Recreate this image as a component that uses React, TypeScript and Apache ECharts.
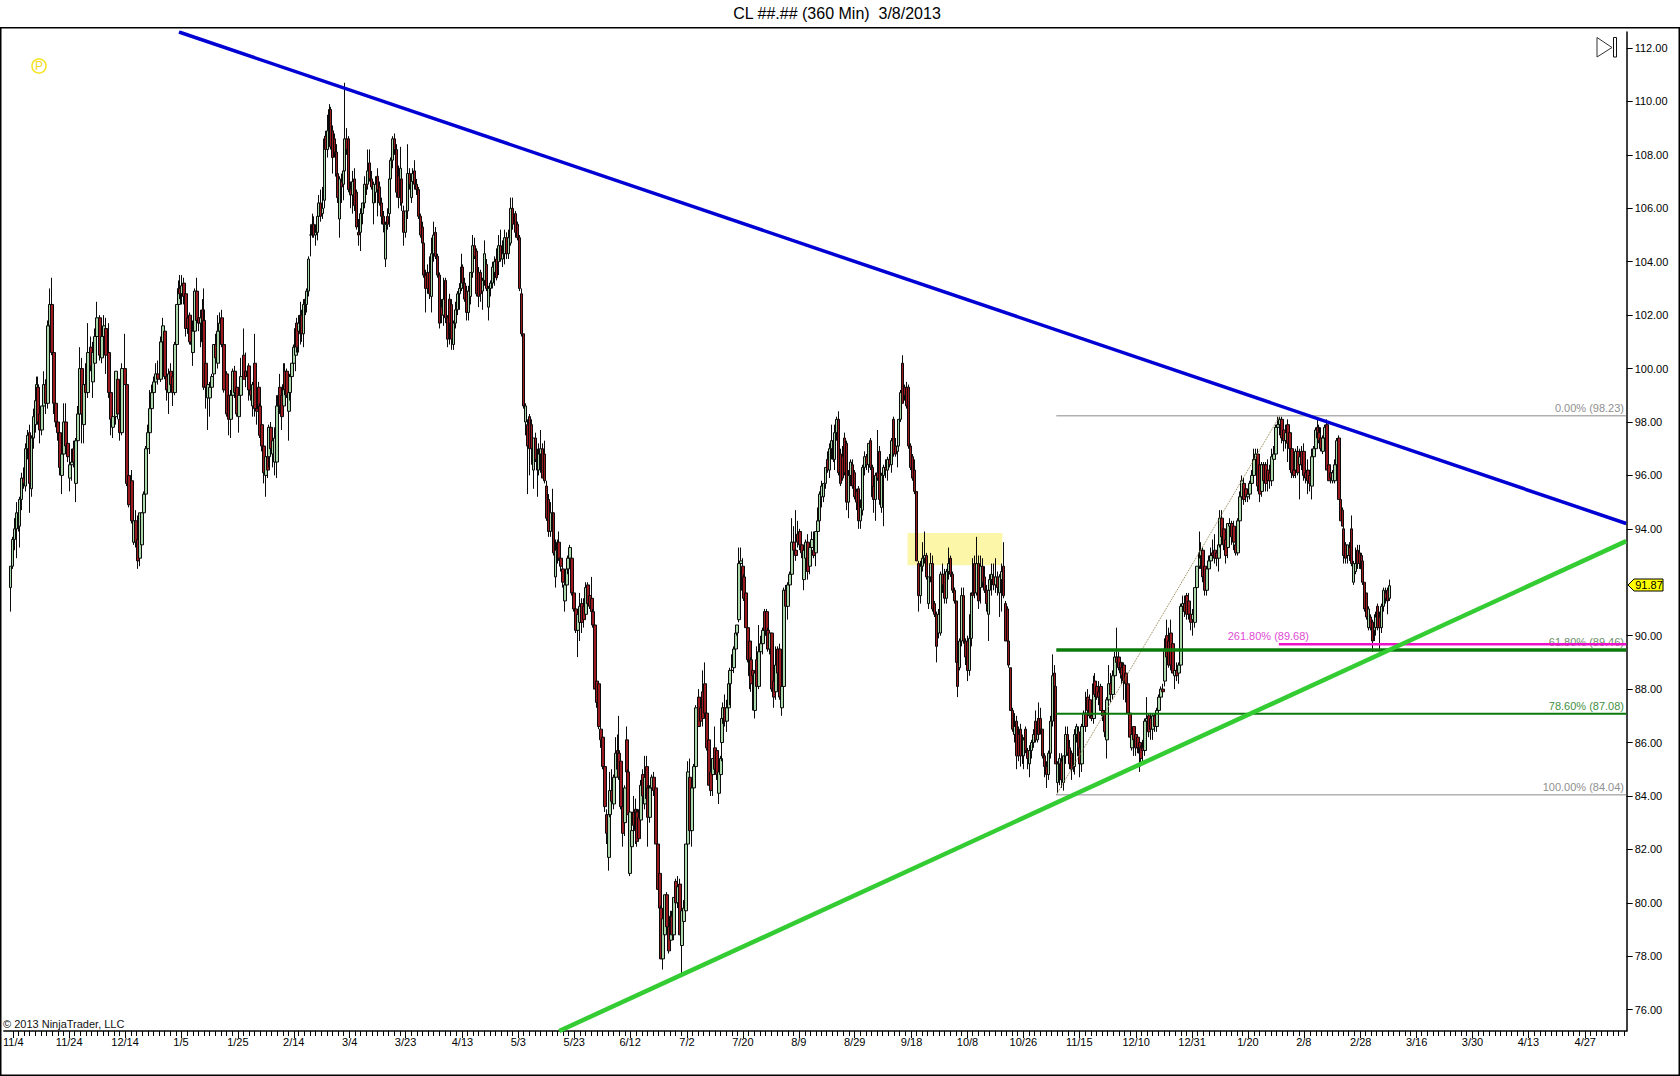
import React, { useEffect, useRef } from "react";
import * as echarts from "echarts";

const FONT = "'Liberation Sans', Arial, sans-serif";

// Every candle: open, high, low, close (flat, four numbers each).
const nov2011ToJan = [
91.8,92.6,90.9,92.6, 92.6,93.7,92.5,93.6, 93.6,94.4,93.2,94.0, 94.0,95.0,92.9,94.6, 94.6,95.0,93.9,94.2, 94.1,95.2,93.3,95.1, 95.1,96.1,94.7,95.9, 95.9,96.3,95.5,95.7, 95.6,97.2,95.4,97.0, 97.0,97.7,96.6,97.5, 97.6,97.9,94.6,95.7, 95.5,97.5,95.2,97.4, 97.4,98.5,97.0,98.2, 97.9,99.0,97.6,98.8, 98.8,99.7,98.5,99.4, 99.3,99.7,97.9,98.0, 98.3,98.6,97.2,97.7, 97.7,98.6,97.5,98.6, 98.6,99.9,98.2,99.4, 99.4,99.6,98.3,98.7,
98.7,101.8,98.5,101.6, 101.6,103.0,101.3,102.4, 102.4,103.4,100.5,100.6, 100.6,101.0,98.3,98.7, 98.7,99.6,97.8,98.0, 98.0,98.2,97.3,97.6, 97.6,97.8,96.0,96.3, 96.0,97.3,95.3,96.8, 96.8,98.7,96.2,98.0, 98.0,98.7,97.0,97.1, 97.2,97.6,96.5,96.7, 95.9,96.9,95.4,96.4, 96.4,97.0,95.8,96.5, 97.0,97.3,96.3,96.5, 95.7,97.4,95.0,97.3, 97.3,98.6,97.1,98.3, 98.3,100.8,98.2,100.0, 100.0,100.4,97.2,98.3, 97.9,99.7,97.2,99.4, 99.4,100.2,98.9,99.1,
99.1,101.7,98.9,100.6, 100.8,101.2,99.9,100.1, 99.5,101.0,98.9,100.6, 100.2,101.5,99.9,101.2, 101.2,102.5,100.8,101.9, 101.9,102.0,100.3,100.5, 100.4,101.5,100.2,101.2, 101.2,102.0,100.8,101.6, 101.5,101.9,99.8,100.5, 100.6,101.7,98.9,99.1, 99.1,99.3,97.5,98.1, 97.8,98.5,97.4,98.2, 98.2,99.9,97.9,99.9, 99.6,99.8,98.1,98.3, 98.1,98.3,97.3,97.6, 97.6,100.2,97.5,100.0, 100.0,101.3,99.4,99.4, 99.4,99.5,95.6,95.7, 96.0,96.2,94.8,94.9, 95.8,96.2,94.2,94.3,
93.5,94.8,93.4,94.3, 94.3,94.7,93.3,93.5, 93.6,94.5,92.5,92.8, 92.9,94.6,92.6,94.6, 93.4,94.6,93.3,94.6, 94.6,95.4,94.4,95.3, 95.3,97.1,95.2,97.0, 97.0,97.9,96.9,97.6, 97.6,99.2,96.8,98.5, 98.5,99.4,98.3,99.1, 99.1,99.7,98.9,99.5, 99.5,100.2,99.3,99.8, 99.8,100.3,99.4,99.6, 99.6,101.2,99.5,101.0, 101.0,101.9,100.5,101.6, 101.4,101.6,99.6,99.7, 99.7,100.0,98.8,99.2, 99.1,100.0,98.3,99.8, 99.9,100.2,99.3,99.4, 99.7,99.9,98.6,99.1,
99.1,101.0,99.0,100.9, 100.9,102.4,100.6,102.4, 102.4,103.3,102.2,103.0, 103.0,103.5,102.6,102.8, 102.8,103.5,102.4,103.1, 103.2,103.4,102.4,102.7, 102.8,102.9,101.2,101.5, 101.9,102.1,101.3,101.5, 102.0,102.1,100.9,101.0, 101.0,101.9,100.6,100.9, 100.6,101.8,100.1,101.4, 101.4,103.0,101.2,102.9, 102.9,103.4,101.7,101.8, 101.9,102.2,101.4,101.7, 101.7,102.2,100.8,101.9, 102.2,102.6,100.8,101.0, 101.8,103.0,99.2,99.3, 100.2,100.5,98.5,99.3, 98.9,99.6,97.7,99.4, 98.9,99.5,98.2,99.3,
99.3,99.8,99.0,99.7, 99.8,100.9,99.5,100.9, 100.9,101.3,100.2,100.4, 100.2,102.0,100.0,101.4, 101.4,102.1,100.2,101.7, 101.9,102.2,100.8,100.9, 100.9,101.0,99.1,99.2, 99.8,99.9,98.2,98.3, 99.0,99.1,97.5,98.1, 98.1,99.2,97.4,99.0, 99.0,100.0,98.5,99.9, 99.9,100.1,98.9,99.1, 99.3,99.4,98.2,98.3, 98.2,99.3,97.6,99.0, 99.0,100.4,98.5,99.7,
];
const janToMay = [
100.5,101.5,99.6,99.6, 99.9,100.6,99.3,99.7, 99.7,100.1,99.2,99.9, 100.1,100.2,98.8,99.2, 99.2,99.7,98.8,99.0, 98.6,99.5,98.2,99.4, 100.2,101.3,98.2,98.5, 98.5,99.5,97.9,98.4, 99.3,99.5,98.4,98.5, 98.6,98.7,97.4,97.5, 97.9,98.0,96.9,97.1, 97.1,97.2,95.7,96.1, 96.0,97.0,95.2,96.7, 96.7,96.9,95.9,96.2, 96.7,97.9,96.3,97.8, 97.8,98.0,96.8,97.0, 96.8,97.5,96.3,97.3, 96.5,97.8,96.0,97.4, 96.5,99.0,95.9,98.6, 98.6,99.3,98.4,99.0,
99.3,99.8,98.3,98.6, 99.0,99.2,97.7,98.2, 98.6,100.2,98.4,99.4, 99.9,100.2,99.0,99.2, 99.9,100.0,98.9,99.0, 98.4,99.3,97.3,99.1, 99.1,99.8,98.8,99.7, 99.7,100.2,99.4,100.2, 100.2,100.9,100.0,100.8, 100.5,101.7,99.9,101.5, 101.7,101.9,100.6,100.8, 101.4,102.0,100.6,101.7, 101.3,102.5,100.9,102.0, 102.0,102.2,101.0,101.3, 101.3,102.6,100.8,102.4, 102.4,102.8,102.0,102.6, 102.4,103.0,102.1,102.9, 102.9,104.2,102.7,104.1, 105.0,105.4,104.2,105.0, 105.0,105.8,104.9,105.4,
105.4,105.7,104.9,105.0, 105.0,105.4,104.6,105.1, 105.1,105.7,104.8,105.7, 105.7,106.5,105.6,106.2, 106.2,106.7,105.5,105.7, 105.8,106.8,105.6,106.0, 106.3,108.7,106.0,108.6, 108.7,108.9,107.7,108.2, 108.2,109.5,107.9,108.9, 108.9,109.9,108.7,109.7, 109.7,109.8,108.2,108.3, 108.9,109.1,107.3,107.9, 108.6,108.8,107.9,108.1, 108.1,108.4,107.0,107.2, 107.3,107.4,106.2,106.4, 105.6,107.2,104.9,107.1, 107.0,107.3,106.2,106.8, 106.9,107.5,106.3,107.4, 107.4,110.7,107.2,108.6, 108.6,109.0,108.0,108.2,
108.6,108.7,106.6,106.7, 106.7,107.0,106.0,106.5, 106.5,107.4,105.8,107.0, 107.1,107.5,105.9,106.1, 106.6,106.7,105.2,105.3, 105.1,105.6,104.6,105.0, 105.1,106.0,104.4,105.8, 105.8,106.2,105.4,106.2, 106.2,107.2,106.0,106.9, 106.9,107.3,106.5,106.8, 106.9,108.2,106.7,107.4, 107.7,108.2,107.0,107.1, 107.1,107.4,106.7,106.8, 106.2,107.0,105.4,106.9, 106.6,107.2,106.2,106.9, 107.2,107.5,105.7,106.7, 106.8,107.0,106.1,106.2, 106.2,106.4,105.4,105.7, 105.7,105.9,105.1,105.4, 104.1,105.5,103.8,105.4,
105.7,106.0,105.2,105.4, 105.8,107.2,105.3,107.1, 107.1,107.9,106.9,107.8, 107.8,108.7,107.5,108.6, 108.6,108.8,108.0,108.2, 108.2,108.4,106.4,106.6, 107.2,107.6,106.0,106.4, 106.4,108.3,106.1,107.5, 107.1,107.2,105.9,106.2, 105.9,106.1,104.6,105.1, 105.1,105.9,104.9,105.9, 105.9,108.4,105.6,107.3, 107.3,107.5,106.7,106.9, 106.4,107.2,106.2,107.1, 107.0,107.5,106.7,107.3, 107.4,107.8,106.7,106.9, 106.9,107.1,106.5,106.7, 106.7,106.8,105.6,105.7, 105.7,105.8,104.9,105.0, 105.3,105.5,104.6,104.7,
104.7,104.8,103.4,103.5, 103.5,103.7,102.1,103.0, 103.6,103.9,102.8,103.0, 103.6,104.2,102.6,102.8, 102.7,104.9,102.1,104.3, 104.3,105.5,104.0,105.0, 105.1,105.3,104.1,104.2, 104.2,104.3,103.4,103.5, 103.5,103.6,101.5,101.7, 102.3,102.6,101.7,102.0, 102.0,103.4,101.6,102.6, 103.3,103.4,101.7,101.9, 101.9,102.0,100.8,101.1, 102.6,102.8,100.9,101.7, 102.4,102.6,100.7,101.1, 100.9,101.8,100.7,101.7, 101.7,102.5,101.5,102.2, 102.2,102.9,102.0,102.8, 102.8,103.2,102.2,103.0, 103.0,104.3,102.9,103.8,
103.8,103.9,103.0,103.2, 103.2,103.4,102.5,102.6, 102.9,103.1,101.8,102.1, 102.1,103.1,101.8,102.9, 102.7,103.6,102.4,103.6, 103.6,105.0,103.4,104.6, 104.6,104.9,104.1,104.2, 104.4,104.5,102.7,102.8, 103.6,103.8,102.3,102.7, 103.6,103.7,102.5,102.8, 102.9,103.4,102.2,103.3, 103.3,104.8,103.1,104.3, 103.9,104.1,102.9,103.0, 102.3,103.1,101.8,103.0, 103.0,103.3,102.7,103.2, 103.2,104.0,103.0,103.8, 103.6,104.2,103.1,104.0, 104.1,104.5,103.3,103.4, 104.0,105.0,103.5,104.6, 104.6,105.2,104.0,104.1,
104.1,104.8,103.8,104.3, 104.3,105.2,103.9,104.9, 104.9,105.1,104.1,104.3, 104.3,105.2,104.1,104.9, 104.7,106.4,104.6,106.0, 106.0,106.4,105.2,105.4, 105.8,105.9,104.9,105.1, 105.4,105.5,104.8,104.9, 104.9,105.0,102.9,103.0, 102.8,103.0,101.2,101.3, 101.3,101.3,98.5,98.6, 98.0,98.7,97.5,98.6, 97.9,98.1,95.3,97.1, 98.2,98.3,96.0,97.0,
];
const mayToJul = [
97.9,98.1,96.4,97.0, 96.2,97.4,95.5,97.4, 97.4,97.6,96.5,96.6, 96.6,97.0,95.2,96.2, 96.2,97.2,96.0,96.8, 96.8,97.7,96.1,97.0, 97.0,97.2,95.9,95.9, 96.8,97.3,95.7,95.8, 95.6,95.8,94.3,94.4, 95.1,95.3,93.7,93.9, 93.9,95.0,93.7,94.6, 94.6,95.5,93.9,94.0, 94.6,94.6,93.0,93.1, 92.2,93.6,91.8,93.2, 93.2,93.6,92.7,93.5, 93.5,93.9,92.8,92.9, 92.9,93.2,92.4,92.6, 92.5,92.8,91.8,92.0, 91.3,92.0,90.9,91.9, 91.9,92.6,91.6,92.5,
92.5,93.0,92.3,92.9, 92.9,93.4,92.7,93.3, 92.9,93.0,91.5,91.6, 91.6,91.7,90.9,91.0, 91.0,91.1,90.1,90.2, 90.2,90.9,89.2,90.8, 90.5,91.6,89.8,91.1, 91.2,91.4,90.1,90.5, 91.1,91.4,90.3,90.6, 90.8,92.0,90.7,91.8, 91.9,92.0,90.9,91.2, 91.5,91.6,91.0,91.1, 91.4,92.2,90.8,90.9, 90.9,91.0,90.3,90.4, 90.4,90.4,88.0,88.0, 88.3,88.4,87.3,87.5, 88.2,88.3,86.5,86.6, 86.5,86.6,85.8,86.1, 86.2,86.3,85.0,85.1, 85.1,85.2,83.4,83.6,
83.3,83.5,82.2,82.6, 81.7,83.4,81.2,83.3, 83.3,84.9,83.2,84.2, 84.2,85.0,83.7,83.8, 83.7,84.8,83.5,84.7, 84.7,86.2,84.4,85.6, 85.7,86.3,84.9,85.0, 85.6,87.0,84.6,84.7, 85.3,85.5,83.5,83.6, 83.6,83.8,82.1,82.6, 83.0,84.4,82.5,84.3, 86.1,86.6,84.8,84.9, 84.9,85.0,83.3,83.3, 81.1,83.5,81.0,83.4, 82.1,83.0,81.9,82.7, 83.4,84.0,82.5,82.9, 83.5,83.9,82.2,82.7, 83.4,83.5,82.1,82.3, 83.2,83.5,82.3,82.4, 83.1,84.6,83.0,84.4,
84.8,85.0,84.0,84.0, 83.7,85.5,83.5,84.7, 85.1,85.5,83.7,83.9, 84.3,84.4,82.1,83.2, 83.2,84.4,83.0,84.3, 84.3,84.8,84.1,84.7, 84.7,84.9,84.0,84.2, 84.3,84.3,82.2,82.2, 82.2,82.2,80.5,80.5, 81.1,81.1,79.8,79.8, 79.8,79.9,77.9,77.9, 77.9,79.4,77.5,79.4, 78.8,80.3,78.2,80.3, 80.3,80.4,79.0,79.1, 79.1,79.5,78.1,78.2, 78.6,79.7,78.2,79.5, 79.5,79.7,78.8,78.8, 78.8,80.2,78.6,80.2, 80.8,80.9,79.9,80.0, 80.0,81.0,79.8,80.6,
80.7,80.9,78.8,78.8, 78.4,80.0,77.3,79.7, 79.3,80.1,79.1,79.8, 79.7,82.2,79.6,82.2, 82.2,85.3,82.1,84.9, 84.7,85.4,82.5,82.7, 82.7,84.4,82.1,84.3, 84.3,85.2,84.2,85.1, 85.1,87.4,85.0,87.3, 87.7,88.0,86.6,86.6, 87.3,87.4,86.7,86.8, 87.9,88.7,86.6,86.9, 88.2,89.0,87.0,87.1, 87.1,87.2,85.7,85.8, 86.1,86.2,84.4,84.4, 84.9,85.0,84.0,84.2, 84.8,85.4,84.0,85.4, 85.8,86.6,84.8,85.0, 85.7,85.8,84.6,84.8, 84.1,85.0,83.7,84.9, 84.8,85.5,84.3,85.4, 85.4,86.2,85.2,85.3, 86.2,86.3,84.4,85.1,
];
const julToOct = [
86.0,86.9,85.3,86.9, 86.9,87.5,86.7,87.3, 87.3,87.8,86.6,86.8, 86.8,87.6,86.4,87.3, 87.3,88.3,87.1,88.2, 88.2,88.8,87.4,88.7, 88.7,89.3,88.4,88.7, 88.8,89.6,88.6,89.5, 89.5,90.2,89.3,90.1, 90.1,90.4,90.0,90.4, 90.6,93.3,90.5,92.7, 92.7,93.3,92.5,92.8, 92.6,92.9,91.5,91.7, 92.2,92.3,91.3,91.4, 91.6,91.7,90.3,90.3, 90.3,90.3,89.0,89.1, 89.8,89.9,88.0,88.5, 89.1,89.2,87.9,88.2, 88.7,89.0,87.2,88.5, 87.2,88.6,86.9,88.6,
89.1,89.6,87.9,88.1, 88.1,90.4,88.0,89.4, 89.4,90.0,89.2,89.7, 89.7,90.3,89.3,90.2, 90.9,91.0,90.2,90.2, 90.9,91.0,89.9,90.0, 90.2,90.3,89.4,89.5, 89.5,90.2,89.3,90.1, 90.1,90.1,87.9,88.0, 88.3,88.6,87.3,87.7, 87.9,89.6,87.6,88.9, 89.5,89.6,88.4,88.6, 89.5,89.7,87.6,87.7, 87.3,88.2,87.0,88.1, 88.1,91.8,88.0,91.7, 91.7,91.9,91.0,91.1, 91.1,92.0,90.6,91.9, 91.9,92.4,91.8,92.3, 92.3,94.4,92.2,93.5, 93.5,94.1,93.0,93.2,
93.2,94.7,92.8,93.0, 93.8,94.3,93.3,93.5, 93.9,94.0,93.2,93.4, 93.4,93.6,92.9,93.1, 92.1,93.3,91.7,93.2, 92.9,93.6,92.6,93.5, 93.5,93.8,92.1,92.4, 92.6,93.4,92.3,93.3, 93.3,93.9,93.0,93.6, 93.2,93.9,92.9,93.0, 93.1,93.9,92.6,93.9, 93.9,94.8,93.7,94.3, 94.3,95.4,94.2,95.3, 95.2,95.8,94.8,95.6, 95.2,95.7,95.0,95.7, 95.7,96.3,95.5,96.3, 96.6,96.9,96.1,96.2, 96.2,97.2,95.9,97.0, 97.0,97.9,96.6,97.3, 97.3,97.5,96.5,96.6,
96.6,97.9,96.2,97.6, 97.6,98.2,97.3,98.1, 98.1,98.4,96.0,96.1, 96.8,97.0,95.6,95.7, 96.7,97.1,95.8,95.9, 97.4,97.6,96.0,96.1, 97.2,97.3,94.7,95.0, 95.0,96.2,94.4,96.0, 96.0,96.6,95.6,96.5, 96.4,96.6,95.5,95.6, 96.1,96.2,95.1,95.2, 95.4,95.5,94.7,95.0, 95.5,95.6,94.0,94.3, 94.3,95.1,94.0,94.8, 94.7,96.4,94.5,96.3, 96.3,96.9,96.0,96.7, 96.7,96.8,96.2,96.4, 96.4,97.2,96.1,97.2, 97.3,97.4,96.2,96.3, 96.3,96.4,95.1,95.2,
95.6,95.8,94.6,95.1, 95.1,96.1,94.3,96.0, 96.1,97.7,95.8,95.9, 96.9,97.1,94.9,95.1, 94.8,96.1,94.6,96.0, 96.0,96.4,94.1,96.3, 96.3,96.6,95.9,96.2, 96.2,96.7,95.8,96.6, 96.6,96.8,96.3,96.4, 96.4,97.4,96.1,97.3, 98.1,98.2,96.7,96.8, 97.1,97.4,96.7,96.8, 96.9,97.2,96.3,97.1, 97.1,98.1,96.9,98.1, 98.1,99.2,98.0,99.1, 100.2,100.5,98.7,98.7, 99.3,99.4,98.8,99.0, 99.3,99.5,98.5,98.6, 99.3,99.4,97.0,97.1, 97.1,97.2,96.2,96.3,
96.7,96.8,95.8,95.9, 96.2,96.6,95.3,95.4, 95.4,95.4,92.8,92.8, 92.7,92.8,90.9,91.5, 91.5,92.8,91.2,92.6, 92.6,93.5,92.4,92.9, 92.9,93.9,92.7,93.0, 93.0,93.1,92.1,92.2, 91.2,92.2,91.0,92.2, 92.2,93.1,92.0,92.7, 92.7,93.0,90.9,91.0, 91.2,91.3,90.7,90.8, 90.8,90.9,89.0,89.6, 90.1,91.0,89.9,90.8, 90.1,92.4,90.0,92.3, 92.3,92.7,91.6,91.9, 92.3,92.5,91.2,91.4, 91.4,92.5,91.2,92.4, 92.4,93.3,92.1,92.7, 92.9,93.0,92.2,92.3,
92.3,92.4,91.6,91.7, 91.7,91.8,91.2,91.3, 91.3,91.3,88.8,89.0, 89.0,89.0,87.7,88.1, 88.8,89.9,88.7,89.8, 89.8,91.8,89.6,91.5, 91.5,91.8,89.7,89.8, 89.8,89.9,88.9,89.2, 89.8,90.0,88.3,88.7, 88.7,90.8,88.5,89.9,
];
const octToJan = [
89.9,91.6,89.6,91.6, 91.6,92.9,91.3,91.5, 92.7,93.0,91.4,91.6, 91.6,93.7,91.5,92.7, 92.7,93.0,91.0,91.3, 91.8,93.0,91.2,92.6, 92.6,92.9,91.8,92.0, 92.2,92.6,91.6,91.7, 91.7,91.9,90.9,91.2, 90.8,92.0,89.8,91.7, 91.7,92.3,91.4,92.1, 92.1,92.7,91.5,92.3, 92.2,92.7,91.7,91.9, 91.9,92.9,91.6,92.2, 92.2,92.4,91.5,91.8, 91.6,92.3,90.7,92.2, 92.1,92.7,90.9,92.4, 92.6,93.5,91.4,91.5, 91.2,91.3,89.8,89.8, 91.0,91.1,89.8,89.8,
89.8,89.8,88.8,88.9, 88.8,88.8,87.2,87.2, 87.2,87.3,86.4,86.5, 86.3,87.1,86.0,86.6, 86.8,87.0,85.0,85.5, 86.3,86.6,85.3,85.5, 86.5,86.7,85.1,85.5, 86.0,86.3,85.2,85.5, 85.5,86.2,85.0,86.1, 86.5,86.6,85.6,85.7, 85.7,85.8,85.0,85.4, 85.2,85.9,84.7,85.7, 85.7,86.1,85.4,86.0, 86.0,86.5,85.8,86.3, 86.8,87.2,86.0,86.1, 86.1,86.9,86.0,86.5, 86.9,87.5,86.2,86.3, 86.9,87.3,86.3,86.5, 86.5,86.5,85.4,85.5, 85.5,85.6,84.7,85.1,
85.1,85.3,84.3,84.8, 84.8,85.7,84.6,85.6, 85.6,87.0,85.4,86.8, 86.8,89.3,86.6,88.5, 88.6,88.9,88.0,88.1, 88.1,88.1,85.2,85.2, 84.5,85.3,84.1,85.2, 85.2,85.6,84.4,85.4, 85.3,85.6,84.3,84.6, 84.5,85.5,84.2,85.5, 85.5,86.6,85.2,86.3, 86.3,86.6,85.5,85.6, 85.8,86.1,85.0,85.2, 85.6,85.7,84.6,85.0, 85.2,85.4,84.9,85.1, 85.1,86.5,84.8,86.3, 86.3,86.7,86.0,86.6, 86.4,86.6,85.5,85.5, 85.8,86.0,84.7,85.2, 85.2,86.7,84.9,86.6,
86.6,87.2,86.1,87.1, 87.1,87.9,86.4,86.6, 87.7,88.0,87.1,87.2, 87.6,87.8,86.9,87.0, 87.0,87.2,86.8,86.9, 86.9,88.5,86.7,88.2, 88.3,88.6,87.7,87.8, 88.1,88.3,87.6,87.7, 87.9,88.3,87.4,87.7, 88.1,88.2,87.2,87.2, 87.2,87.3,86.8,87.0, 87.1,87.2,86.2,86.4, 86.1,87.7,85.4,87.6, 87.6,88.9,87.3,88.2, 88.2,88.6,87.5,87.8, 87.8,88.7,87.6,88.5, 88.5,89.4,88.3,89.2, 89.2,90.3,88.8,89.0, 89.2,89.4,88.7,88.8, 89.0,89.2,88.4,88.6,
88.8,89.0,88.2,88.5, 88.9,89.0,87.6,88.3, 88.6,88.8,87.5,88.2, 88.2,88.2,87.1,87.1, 87.1,87.1,86.2,86.2, 85.8,86.7,85.7,86.3, 86.6,86.6,85.5,86.1, 86.3,86.4,85.5,85.8, 86.2,86.2,85.6,85.8, 86.0,86.1,84.9,85.6, 85.8,85.9,85.1,85.4, 85.8,86.1,85.3,85.7, 85.7,86.9,85.5,86.8, 86.8,87.7,86.4,86.9, 87.0,87.1,86.2,86.4, 86.9,87.1,86.1,86.5, 86.5,87.1,86.1,87.0, 87.0,87.1,86.4,86.6, 86.6,87.3,86.4,87.2, 87.2,87.8,87.0,87.7,
87.7,88.1,87.3,88.0, 88.0,88.2,87.7,87.9, 88.3,89.9,88.1,89.5, 90.0,90.6,89.1,89.2, 89.8,90.3,88.8,88.9, 90.1,90.6,88.7,88.9, 89.7,89.8,88.6,88.6, 88.5,89.2,88.0,88.7, 88.7,89.0,88.3,88.5, 88.6,89.0,88.2,88.9, 88.9,91.2,88.7,91.1, 91.1,91.5,90.8,91.2, 91.2,91.5,90.7,90.9, 91.5,91.6,90.6,90.8, 91.3,91.6,90.6,90.8, 90.8,91.0,90.2,90.5, 90.6,91.0,90.0,90.8, 90.5,91.8,90.3,91.8, 91.8,92.6,91.7,92.6, 92.6,93.9,92.5,93.1, 93.0,93.2,92.4,92.6,
];
const janToMar2013 = [
92.9,93.5,92.5,93.2, 93.2,93.3,92.0,92.2, 92.6,92.7,91.5,91.7, 91.7,92.6,91.5,92.5, 92.5,93.0,92.2,92.8, 92.8,93.3,92.5,93.0, 93.1,93.6,92.9,93.0, 93.2,93.8,92.7,92.9, 93.1,93.2,92.6,92.9, 92.9,93.5,92.4,93.4, 93.4,94.7,93.3,94.4, 94.4,94.7,93.6,93.7, 94.0,94.2,93.2,93.4, 93.6,93.8,92.7,93.0, 93.3,94.2,92.9,94.2, 94.1,94.4,93.7,94.2, 94.2,94.3,93.4,93.7, 94.1,94.3,93.2,93.5, 93.4,93.6,93.0,93.1, 93.1,94.4,93.0,94.3,
94.3,95.4,94.2,95.2, 95.2,96.0,95.0,95.8, 95.7,95.9,94.9,95.1, 95.5,95.6,95.0,95.2, 95.2,95.4,95.0,95.3, 95.3,95.8,95.1,95.7, 95.7,96.2,95.5,96.0, 96.0,97.0,95.8,96.6, 96.6,97.0,96.4,96.8, 96.8,97.0,95.4,95.6, 96.4,96.6,95.0,95.3, 95.4,96.5,95.2,96.4, 96.4,96.5,95.7,95.8, 96.4,96.5,95.4,95.7, 96.2,96.6,95.4,95.8, 96.1,96.4,95.5,95.8, 95.8,97.0,95.6,96.7, 96.6,97.1,96.3,96.8, 96.8,97.9,96.6,97.8, 97.8,98.2,97.3,97.9,
97.9,98.2,97.5,98.1, 98.1,98.2,97.2,97.4, 97.7,97.9,96.9,97.3, 97.3,97.9,97.0,97.6, 97.9,98.1,96.5,97.2, 97.6,97.7,96.2,97.0, 97.0,97.0,95.9,96.1, 96.2,96.5,95.9,96.0, 96.2,97.0,95.9,96.9, 96.9,97.1,96.0,96.1, 96.4,97.0,95.1,96.7, 96.9,97.1,96.2,96.4, 96.9,97.2,95.8,96.0, 96.1,96.5,95.7,95.9, 96.2,96.6,95.3,95.8, 96.0,96.2,95.4,95.7, 95.6,97.0,95.1,96.7, 96.7,97.1,96.4,97.0, 97.0,97.8,96.8,97.7, 97.8,98.1,97.3,97.4,
97.6,97.9,97.2,97.3, 97.4,97.8,96.9,97.0, 96.9,97.5,96.8,97.4, 97.4,97.9,97.2,97.8, 97.9,98.1,96.2,96.2, 96.4,96.5,95.8,95.8, 96.1,96.3,95.7,95.9, 95.8,96.2,95.7,96.1, 95.8,96.6,95.7,96.4, 96.4,97.4,96.2,97.3, 97.4,97.5,95.1,95.1, 95.1,95.1,94.3,94.3, 94.7,94.8,94.1,94.1, 94.0,94.1,92.7,93.0, 93.4,93.5,92.7,92.9, 93.0,93.4,92.7,93.4, 93.3,93.5,92.8,93.0, 94.0,94.5,92.6,92.7, 92.0,92.8,91.9,92.7, 92.4,93.3,92.3,92.7,
93.2,93.4,92.5,92.7, 93.1,93.4,92.5,92.7, 93.0,93.1,92.3,92.5, 92.8,92.9,91.9,92.0, 92.0,92.0,90.9,91.0, 91.6,91.6,90.6,90.7, 90.3,91.1,90.2,91.0, 90.7,90.8,90.2,90.3, 90.5,90.6,89.4,89.8, 90.2,90.8,89.8,90.5, 90.3,90.9,90.0,90.7, 91.1,91.2,90.2,90.3, 90.7,90.9,89.5,90.3, 90.3,91.2,90.1,91.1, 91.1,91.8,90.9,91.7, 91.6,91.8,91.2,91.4, 91.7,91.8,90.8,91.3, 91.4,92.1,91.3,91.87,
];
const segments = [nov2011ToJan, janToMay, mayToJul, julToOct, octToJan, janToMar2013];
// Time slot of the first candle, of every 20th candle and of the last one in each stretch.
const segmentSlots = [
  [6, 42, 82, 127.5, 169, 206, 237],
  [240, 274.5, 308.5, 343, 382, 418.5, 457.5, 497, 526],
  [528, 563.5, 602, 638, 675, 716],
  [718.5, 752, 790.5, 830.5, 869.5, 908, 948, 966.5],
  [968.5, 1004.5, 1042, 1080, 1118.5, 1156.5, 1197.5],
  [1199, 1236, 1276, 1315.5, 1354, 1387.5],
];

const dateLabels = ["11/4","11/24","12/14","1/5","1/25","2/14","3/4","3/23","4/13","5/3","5/23","6/12","7/2","7/20","8/9","8/29","9/18","10/8","10/26","11/15","12/10","12/31","1/20","2/8","2/28","3/16","3/30","4/13","4/27"];
const priceTicks = [76,78,80,82,84,86,88,90,94,96,98,100,102,104,106,108,110,112];
const slotCount = 1626;
const firstLabelSlot = 8.5;
const slotsPerLabel = 56.25;

const blueTrend = [[175, 112.6], [1625, 94.2]];
const greenTrend = [[556, 75.2], [1625, 93.54]];
const fibSwing = [[1054, 84.04], [1278, 98.23]];
const fib0 = [[1054, 98.23], [1625, 98.23]];
const fib100 = [[1054, 84.04], [1625, 84.04]];
const fib618 = [[1054, 89.46], [1625, 89.46]];
const fib786 = [[1054, 87.08], [1625, 87.08]];
const fib2618 = [[1277, 89.68], [1625, 89.68]];
const zoneFrom = { xAxis: 905, yAxis: 93.84 };
const zoneTo = { xAxis: 1000, yAxis: 92.64 };
const lastPrice = 91.87;

const candleData: any[] = Array.from({ length: slotCount }, () => ["-", "-", "-", "-"]);
segments.forEach((seg, s) => {
  const rows = seg.length / 4;
  const knots = segmentSlots[s];
  const rowAt = (m: number) => (m === 0 ? 0 : Math.min(20 * m - 1, rows - 1));
  for (let k = 0; k < rows; k++) {
    let m = 0;
    while (m < knots.length - 2 && k > rowAt(m + 1)) m++;
    const t = (k - rowAt(m)) / Math.max(1, rowAt(m + 1) - rowAt(m));
    const slot = Math.round(knots[m] + (knots[m + 1] - knots[m]) * t);
    const [o, h, l, c] = [seg[k * 4], seg[k * 4 + 1], seg[k * 4 + 2], seg[k * 4 + 3]];
    candleData[slot] = [o, c, Math.min(l, o, c), Math.max(h, o, c)];
  }
});
const labelSlots = new Map(dateLabels.map((d, k) => [Math.round(firstLabelSlot + k * slotsPerLabel), d]));
const tickSlots = new Set(Array.from({ length: 292 }, (_, j) => Math.round(firstLabelSlot + (j * slotsPerLabel) / 10)));
const categories = Array.from({ length: slotCount }, (_, i) => labelSlots.get(i) ?? "");

const thinLine = (data: number[][], color: string, width: number, type = "solid", z = 5) => ({
  type: "line", data, showSymbol: false, symbol: "none", silent: true, z,
  lineStyle: { color, width, type }, animation: false,
});

const txt = (text: string, x: number, y: number, color: string, align = "right", size = 11, z = 0) => ({
  type: "text", x, y, z, silent: true,
  style: { text, fill: color, font: `${size}px ${FONT}`, textAlign: align, textVerticalAlign: "middle" },
});

export default function App() {
  const ref = useRef<HTMLDivElement>(null);
  useEffect(() => {
    document.body.style.margin = "0";
    document.body.style.background = "#fff";
    const chart = echarts.init(ref.current!, undefined, { renderer: "svg" });
    chart.setOption({
      animation: false,
      backgroundColor: "#ffffff",
      grid: { left: 1, top: 32, width: 1625.7, height: 999, containLabel: false },
      xAxis: [
        {
          type: "category", data: categories, position: "bottom",
          axisLine: { show: true, lineStyle: { color: "#000", width: 1.5 } },
          axisTick: { show: true, alignWithLabel: true, length: 7, interval: (i: number) => labelSlots.has(i), lineStyle: { color: "#000" } },
          axisLabel: { show: true, interval: (i: number) => labelSlots.has(i), margin: 5, color: "#000", fontFamily: FONT, fontSize: 11, hideOverlap: false },
          splitLine: { show: false },
        },
        {
          type: "category", data: categories, position: "bottom",
          axisLine: { show: false },
          axisTick: { show: true, alignWithLabel: true, length: 5, interval: (i: number) => tickSlots.has(i), lineStyle: { color: "#000" } },
          axisLabel: { show: false },
          splitLine: { show: false },
        },
      ],
      yAxis: {
        type: "value", position: "right", min: 75.2, max: 112.6, scale: true,
        axisLine: { show: true, lineStyle: { color: "#000", width: 1.5 } },
        axisTick: { show: true, length: 6, customValues: priceTicks, lineStyle: { color: "#000" } },
        axisLabel: { show: true, margin: 8, customValues: priceTicks, color: "#000", fontFamily: FONT, fontSize: 11, formatter: (v: number) => v.toFixed(2) },
        splitLine: { show: false },
      },
      series: [
        {
          type: "line", data: [], z: 1, silent: true, symbol: "none",
          markArea: { silent: true, itemStyle: { color: "#fcf6a9" }, data: [[zoneFrom, zoneTo]] },
        },
        {
          type: "candlestick", data: candleData, barWidth: 3, z: 3, silent: true, large: false, progressive: 0,
          itemStyle: { color: "#abd8ab", color0: "#9a1a1f", borderColor: "#0a0a0a", borderColor0: "#0a0a0a", borderWidth: 1 },
        },
        thinLine(fibSwing, "#8c7a44", 1, "dotted"),
        thinLine(fib0, "#8a8a8a", 1),
        thinLine(fib100, "#8a8a8a", 1),
        thinLine(fib786, "#0b7a0b", 2),
        thinLine(fib2618, "#ee11cc", 2.5, "solid", 6),
        thinLine(fib618, "#0b7a0b", 3.5, "solid", 6),
        thinLine(blueTrend, "#0000d4", 3.5, "solid", 7),
        thinLine(greenTrend, "#33cc33", 4.5, "solid", 7),
      ],
      graphic: [
        { type: "rect", z: 100, silent: true, shape: { x: 0.75, y: 27.75, width: 1678.5, height: 1047.5 }, style: { fill: "none", stroke: "#000", lineWidth: 1.5 } },
        txt("CL ##.## (360 Min)  3/8/2013", 837, 13, "#000", "center", 16, 100),
        txt("© 2013 NinjaTrader, LLC", 3, 1024, "#111", "left", 11, 100),
        txt("0.00% (98.23)", 1624, 408, "#8f8f8f"),
        txt("100.00% (84.04)", 1624, 787, "#8f8f8f"),
        txt("61.80% (89.46)", 1624, 642, "#6b8e6b"),
        txt("78.60% (87.08)", 1624, 706, "#3f8f3f"),
        txt("261.80% (89.68)", 1309, 636, "#e04bd4"),
        { type: "circle", z: 100, silent: true, shape: { cx: 39, cy: 66, r: 7 }, style: { fill: "none", stroke: "#f4e21c", lineWidth: 1.5 } },
        txt("P", 39, 66, "#f4d81c", "center", 12, 100),
        { type: "polygon", z: 100, silent: true, shape: { points: [[1597, 37.5], [1597, 57], [1612, 47.5]] }, style: { fill: "none", stroke: "#333", lineWidth: 1 } },
        { type: "rect", z: 100, silent: true, shape: { x: 1613.5, y: 37.5, width: 3, height: 19.5 }, style: { fill: "#fff", stroke: "#111", lineWidth: 1 } },
        { type: "polygon", z: 100, silent: true, shape: { points: [[1628, 585], [1634, 579], [1663, 579], [1663, 591], [1634, 591]] }, style: { fill: "#ffff00", stroke: "#000", lineWidth: 1 } },
        txt(lastPrice.toFixed(2), 1649, 585, "#000", "center", 11, 101),
      ],
    });
    return () => chart.dispose();
  }, []);
  return <div ref={ref} style={{ width: 1680, height: 1076 }} />;
}
